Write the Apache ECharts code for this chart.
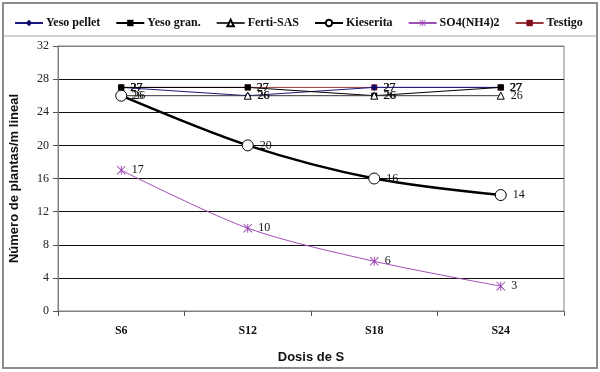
<!DOCTYPE html>
<html><head><meta charset="utf-8">
<script src="https://cdn.jsdelivr.net/npm/echarts@6/dist/echarts.min.js"></script>
<style>html,body{margin:0;padding:0;background:#fff}#c{width:600px;height:372px}</style>
</head><body><div id="c"></div>
<script>
const categories = ['S6', 'S12', 'S18', 'S24'];
const yTicks = [0, 4, 8, 12, 16, 20, 24, 28, 32];
const yesoPellet = [27, 26, 27, 27];
const yesoGran = [27, 27, 26, 27];
const fertiSAS = [26, 26, 26, 26];
const kieserita = [26, 20, 16, 14];
const so4nh4 = [17, 10, 6, 3];
const testigo = [27, 27, 27, 27];

const serif = '"Liberation Serif", "DejaVu Serif", serif';
const sans = '"Liberation Sans", Arial, sans-serif';
const star = 'path://M-0.5,-5 L0.5,-5 L0.5,5 L-0.5,5 Z M-5,-4.3 L-4.3,-5 L5,4.3 L4.3,5 Z M4.3,-5 L5,-4.3 L-4.3,5 L-5,4.3 Z';

const lbl = {show: true, position: 'right', distance: 6, color: '#111', fontFamily: serif, fontSize: 12};

const chart = echarts.init(document.getElementById('c'), null, {renderer: 'canvas'});
chart.setOption({
  animation: false,
  backgroundColor: '#fff',
  graphic: [
    {type: 'rect', shape: {x: 3, y: 3, width: 594, height: 365}, style: {fill: 'none', stroke: '#8c8c8c', lineWidth: 2}, z: -1},
    {type: 'line', shape: {x1: 3, y1: 36, x2: 597, y2: 36}, style: {stroke: '#a0a0a0', lineWidth: 1}, z: -1}
  ],
  legend: {
    left: 9, right: 0, top: 12, itemWidth: 28, itemHeight: 8, itemGap: 15,
    textStyle: {fontFamily: serif, fontWeight: 'bold', fontSize: 12, color: '#111', padding: [0, 0, 0, -2]},
    data: ['Yeso pellet', 'Yeso gran.', 'Ferti-SAS', 'Kieserita', 'SO4(NH4)2', 'Testigo']
  },
  grid: {left: 57, right: 36, top: 46, bottom: 61, show: true, borderColor: '#808080', borderWidth: 1, backgroundColor: 'transparent'},
  xAxis: {
    type: 'category', data: categories, boundaryGap: true,
    name: 'Dosis de S', nameLocation: 'middle', nameGap: 40,
    nameTextStyle: {fontFamily: sans, fontWeight: 'bold', fontSize: 13, color: '#111'},
    axisLine: {lineStyle: {color: '#808080', width: 1}},
    axisTick: {show: true, inside: false, length: 5, lineStyle: {color: '#555'}},
    axisLabel: {fontFamily: serif, fontWeight: 'bold', fontSize: 12, color: '#111', margin: 14},
    splitLine: {show: false}
  },
  yAxis: {
    type: 'value', min: yTicks[0], max: yTicks[yTicks.length - 1], interval: 4,
    name: 'Número de plantas/m lineal', nameLocation: 'middle', nameGap: 37,
    nameTextStyle: {fontFamily: sans, fontWeight: 'bold', fontSize: 13, color: '#111'},
    axisLine: {show: true, lineStyle: {color: '#808080'}},
    axisTick: {show: true, inside: false, length: 5, lineStyle: {color: '#555'}},
    axisLabel: {fontFamily: serif, fontSize: 12, color: '#222', margin: 9},
    splitLine: {show: true, lineStyle: {color: ['#808080', '#111', '#111', '#111', '#111', '#111', '#111', '#111', '#808080'], width: 1}}
  },
  series: [
    {name: 'Testigo', type: 'line', data: testigo, symbol: 'rect', symbolSize: 6,
      itemStyle: {color: '#7f0f1a'}, lineStyle: {color: '#9a3a40', width: 1}, label: lbl, z: 2},
    {name: 'Yeso pellet', type: 'line', data: yesoPellet, symbol: 'diamond', symbolSize: 7,
      itemStyle: {color: '#0a0a6e'}, lineStyle: {color: '#1a1a80', width: 1}, label: lbl, z: 3},
    {name: 'Yeso gran.', type: 'line', data: yesoGran, symbol: 'rect', symbolSize: 6,
      itemStyle: {color: '#000'}, lineStyle: {color: '#000', width: 1}, label: lbl, z: 3},
    {name: 'Ferti-SAS', type: 'line', data: fertiSAS, symbol: 'triangle', symbolSize: 7,
      itemStyle: {color: '#fff', borderColor: '#000', borderWidth: 1}, lineStyle: {color: '#333', width: 1}, label: lbl, z: 3},
    {name: 'Kieserita', type: 'line', data: kieserita, smooth: 0.3, symbol: 'circle', symbolSize: 11,
      itemStyle: {color: '#fff', borderColor: '#000', borderWidth: 1}, lineStyle: {color: '#000', width: 2.5}, label: lbl, z: 4},
    {name: 'SO4(NH4)2', type: 'line', data: so4nh4, smooth: 0.3, symbol: star, symbolSize: 9,
      itemStyle: {color: '#9b3fb0'}, lineStyle: {color: '#a04fb5', width: 1}, label: lbl, z: 4}
  ]
});
</script></body></html>
